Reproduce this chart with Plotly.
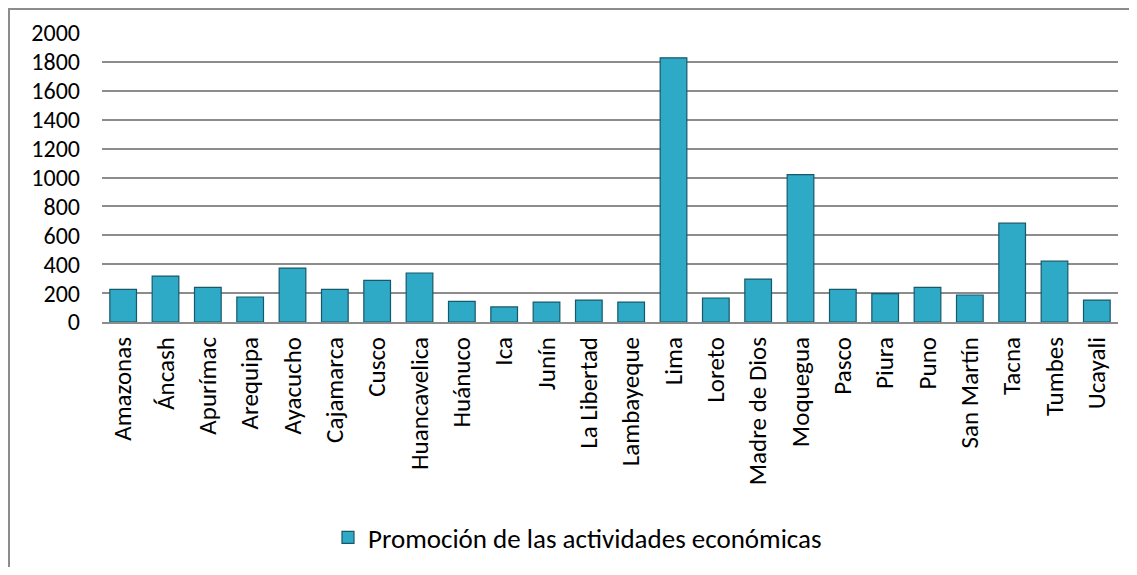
import plotly.graph_objects as go

# regiones y valores
regiones = ['Amazonas', 'Áncash', 'Apurímac', 'Arequipa', 'Ayacucho', 'Cajamarca',
            'Cusco', 'Huancavelica', 'Huánuco', 'Ica', 'Junín', 'La Libertad',
            'Lambayeque', 'Lima', 'Loreto', 'Madre de Dios', 'Moquegua', 'Pasco',
            'Piura', 'Puno', 'San Martín', 'Tacna', 'Tumbes', 'Ucayali']
valores = [226, 318, 240, 173, 373, 226, 288, 339, 143, 104, 138, 152,
           138, 1828, 166, 297, 1020, 226, 196, 240, 187, 684, 421, 152]
serie = 'Promoción de las actividades económicas'
y_ticks = [0, 200, 400, 600, 800, 1000, 1200, 1400, 1600, 1800, 2000]

fuente = 'Carlito, Lato, "Open Sans", sans-serif'

fig = go.Figure(go.Bar(
    x=regiones, y=valores, name=serie,
    marker=dict(color='#2EA9C6', line=dict(color='#17596B', width=1.2)),
    showlegend=True,
))

# la pagina html deja 8px de margen en el body
W, H = 1121, 559
ml, mr, mt, mb = 94, 11, 25, 245

fig.update_layout(
    width=W, height=H,
    margin=dict(l=ml, r=mr, t=mt, b=mb, autoexpand=False),
    paper_bgcolor='white', plot_bgcolor='white',
    font=dict(family=fuente, size=25, color='black'),
    bargap=0.37,
    legend=dict(orientation='h', x=0.468, xanchor='center', y=-0.747, yanchor='middle',
                font=dict(size=27), itemwidth=30, bgcolor='rgba(0,0,0,0)'),
    xaxis=dict(tickangle=-90, showgrid=False, showline=True, linecolor='#8C8C8C',
               linewidth=2, ticks='', ticklabelstandoff=3, tickfont=dict(size=25)),
    yaxis=dict(range=[0, 2000], tickvals=y_ticks, showgrid=True, gridcolor='#8C8C8C',
               gridwidth=2, zeroline=False, showline=False, ticks='',
               ticklabelstandoff=21, tickfont=dict(size=24)),
)

# borde exterior del grafico
pw = W - ml - mr
ph = H - mt - mb
fig.add_shape(type='rect', xref='paper', yref='paper',
              x0=-(ml - 1) / pw, x1=1 + (mr + 20) / pw,
              y0=-(mb + 20) / ph, y1=1 + (mt - 1) / ph,
              line=dict(color='#8C8C8C', width=2), layer='below')

fig.write_html("out.html")
